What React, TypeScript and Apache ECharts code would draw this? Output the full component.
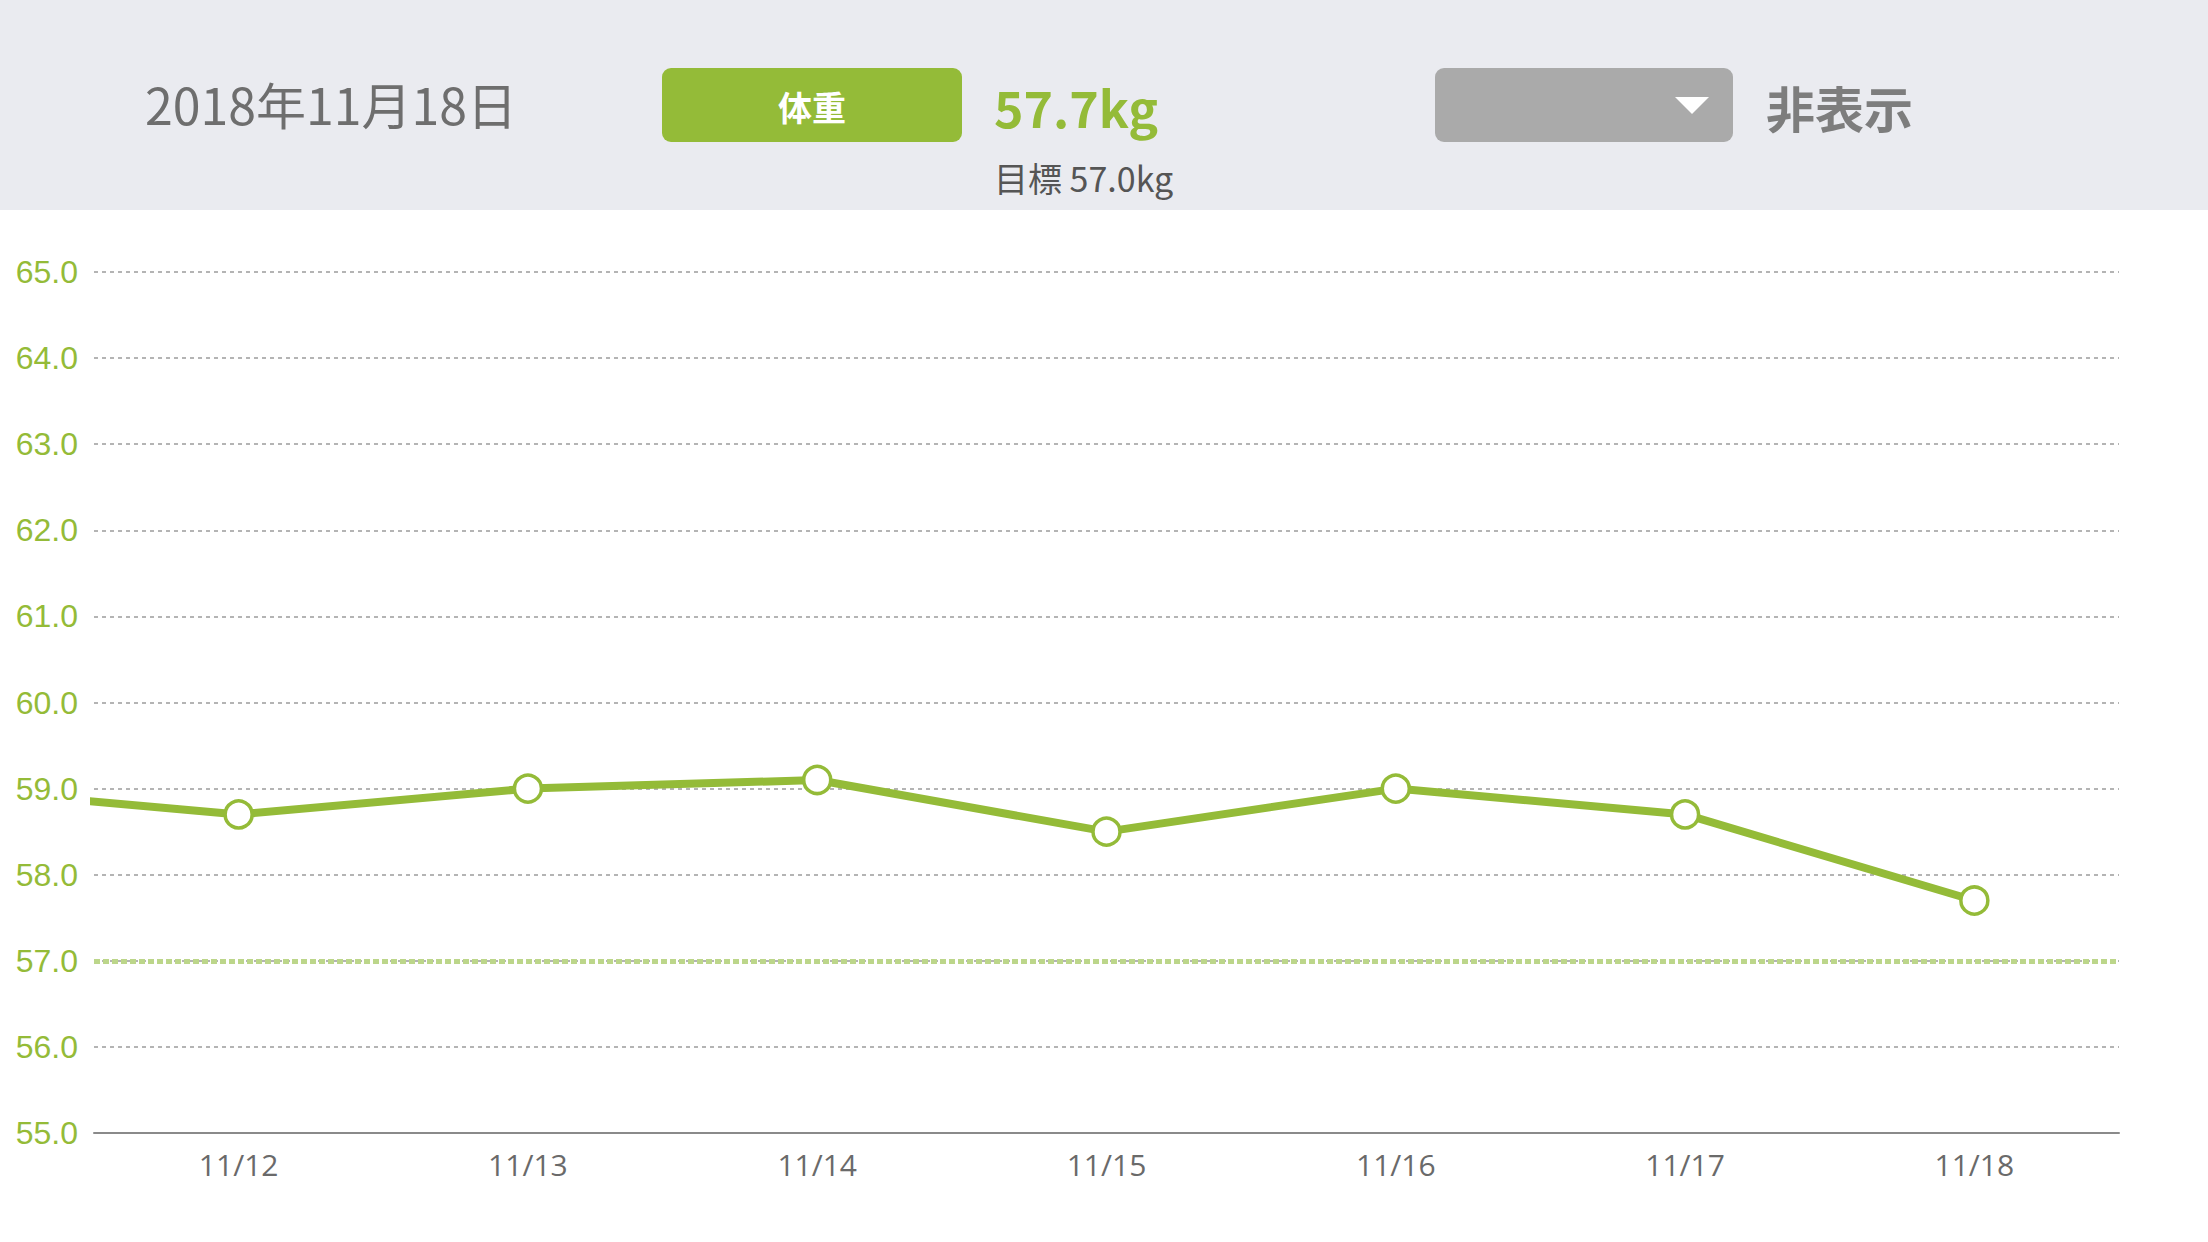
import React, { useEffect, useRef } from "react";
import * as echarts from "echarts";

const dates = ["11/11", "11/12", "11/13", "11/14", "11/15", "11/16", "11/17", "11/18"];
const weights = [59.0, 58.7, 59.0, 59.1, 58.5, 59.0, 58.7, 57.7];
const targetWeight = 57.0;
const yTicks = { min: 55, max: 65, interval: 1 };
const headerDate = "2018年11月18日";
const headerTab = "体重";
const headerValue = "57.7kg";
const headerTarget = "目標 57.0kg";
const headerHide = "非表示";

const GREEN = "#94bb38";
const CJK = "'Noto Sans CJK JP', 'Noto Sans', sans-serif";

export default function App() {
  const ref = useRef<HTMLDivElement>(null);
  useEffect(() => {
    if (!ref.current) return;
    const chart = echarts.init(ref.current, undefined, { renderer: "svg" });
    const visible = dates.slice(1);
    const option: any = {
      animation: false,
      backgroundColor: "#ffffff",
      grid: { left: 94, right: 89, top: 272, bottom: 109, containLabel: false },
      xAxis: [
        {
          type: "category",
          data: visible,
          boundaryGap: true,
          axisLine: { show: true, lineStyle: { color: "#8a8a8a", width: 2 } },
          axisTick: { show: false },
          axisLabel: {
            color: "#6a6a6a",
            fontSize: 30,
            fontFamily: "'Open Sans', sans-serif",
            margin: 16,
          },
          splitLine: { show: false },
        },
        {
          type: "value",
          show: false,
          min: 0.5,
          max: visible.length + 0.5,
          position: "bottom",
          splitLine: { show: false },
        },
      ],
      yAxis: {
        type: "value",
        min: yTicks.min,
        max: yTicks.max,
        interval: yTicks.interval,
        axisLine: { show: false },
        axisTick: { show: false },
        axisLabel: {
          color: GREEN,
          fontSize: 32,
          fontFamily: "'Liberation Sans', Arial, sans-serif",
          margin: 16,
          formatter: (v: number) => v.toFixed(1),
        },
        splitLine: { show: true, lineStyle: { color: "#b4b4b4", width: 2, type: [4, 4] } },
      },
      series: [
        {
          type: "line",
          xAxisIndex: 1,
          yAxisIndex: 0,
          data: weights.map((w, i) => [i, w]),
          clip: true,
          lineStyle: { color: GREEN, width: 8 },
          symbol: "circle",
          symbolSize: 27,
          showAllSymbol: true,
          itemStyle: { color: "#ffffff", borderColor: GREEN, borderWidth: 3.5 },
          z: 5,
          markLine: {
            silent: true,
            symbol: ["none", "none"],
            label: { show: false },
            lineStyle: { color: "#bcd68a", width: 5, type: [6, 3] },
            data: [{ yAxis: targetWeight }],
            z: 3,
          },
        },
      ],
      graphic: [
        { type: "rect", left: 0, top: 0, shape: { width: 2208, height: 210 }, style: { fill: "#eaebf0" }, z: -1 },
        {
          type: "text",
          left: 145,
          top: 78,
          style: { text: headerDate, fill: "#6e6e6e", font: `400 50px ${CJK}` },
        },
        {
          type: "rect",
          left: 662,
          top: 68,
          shape: { width: 300, height: 74, r: 9 },
          style: { fill: GREEN },
        },
        {
          type: "text",
          x: 812,
          y: 106,
          style: { text: headerTab, fill: "#ffffff", font: `700 34px ${CJK}`, align: "center", verticalAlign: "middle" },
        },
        {
          type: "text",
          x: 994,
          y: 106,
          style: { text: headerValue, fill: GREEN, font: `700 50px ${CJK}`, align: "left", verticalAlign: "middle" },
        },
        {
          type: "text",
          x: 994,
          y: 177,
          style: { text: headerTarget, fill: "#555555", font: `400 34px ${CJK}`, align: "left", verticalAlign: "middle" },
        },
        {
          type: "rect",
          left: 1435,
          top: 68,
          shape: { width: 298, height: 74, r: 9 },
          style: { fill: "#aaaaaa" },
        },
        {
          type: "polygon",
          shape: { points: [[1675, 97], [1709, 97], [1692, 114]] },
          style: { fill: "#ffffff" },
        },
        {
          type: "text",
          x: 1766,
          y: 106,
          style: { text: headerHide, fill: "#7d7d7d", font: `700 49px ${CJK}`, align: "left", verticalAlign: "middle" },
        },
      ],
    };
    chart.setOption(option);
    return () => chart.dispose();
  }, []);
  return (
    <div
      ref={ref}
      style={{ position: "fixed", left: 0, top: 0, width: 2208, height: 1242 }}
    />
  );
}
